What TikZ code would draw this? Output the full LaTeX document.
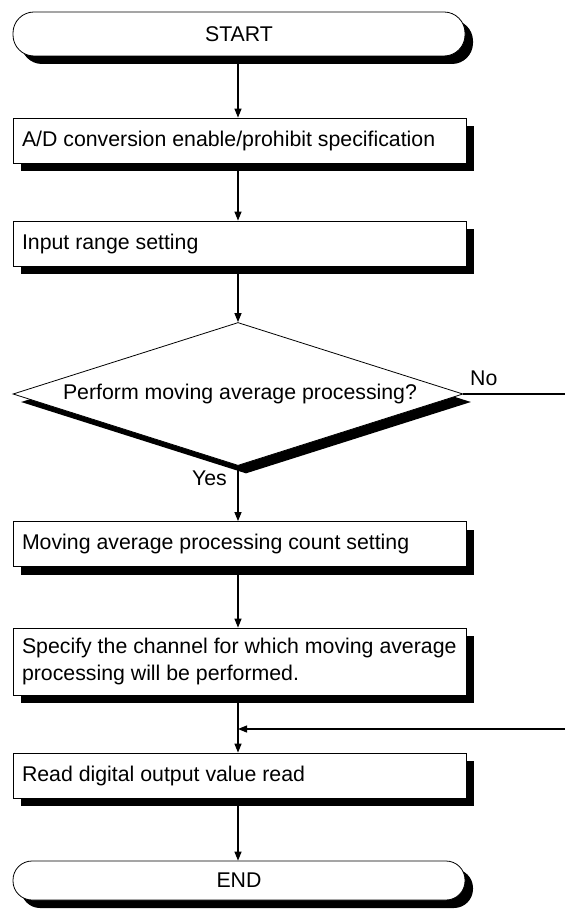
\documentclass[tikz,border=0pt]{standalone}
\usepackage{fontspec}
\setmainfont{Liberation Sans}
\usetikzlibrary{shapes.geometric,shadows,arrows.meta}
\begin{document}
\begin{tikzpicture}[x=1pt,y=-1pt,
 every node/.style={font=\fontsize{21.3}{27}\selectfont},
 shadowed/.style={drop shadow={shadow xshift=8pt,shadow yshift=-8pt,fill=black,opacity=1}},
 procbox/.style={shadowed,draw,line width=0.8pt,fill=white,rectangle,minimum width=453pt,inner xsep=9pt,inner ysep=0pt,text width=435pt,align=flush left},
 term/.style={shadowed,draw,line width=0.8pt,fill=white,rectangle,minimum width=452pt,inner sep=0pt},
 decision/.style={shadowed,draw,line width=0.8pt,fill=white,diamond,minimum width=450pt,minimum height=143pt,inner sep=0pt},
 lbl/.style={inner sep=0pt},
 arr/.style={line width=1.2pt,-{Triangle[length=9pt,width=7pt]}},
 plain/.style={line width=1.2pt}]
\useasboundingbox (0,0) rectangle (565,909);
\coordinate (col) at (238,0);
\coordinate (noend) at (565,394);
\coordinate (ret) at (565,729);

\node[term,rounded corners=21pt,minimum height=44pt] (start) at (239,34) {START};
\node[procbox,minimum height=45pt] (ad) at (239.5,140.5) {A/D conversion enable/prohibit specification};
\node[procbox,minimum height=45pt] (rng) at (239.5,243.5) {Input range setting};
\node[decision,label={[xshift=2pt]center:Perform moving average processing?}] (dec) at (238,394) {};
\node[procbox,minimum height=45pt] (cnt) at (239.5,544) {Moving average processing count setting};
\node[procbox,minimum height=67pt] (spec) at (239.5,661.5) {\makebox[435pt][l]{Specify the channel for which moving average}\\processing will be performed.};
\node[procbox,minimum height=45pt] (read) at (239.5,775.5) {Read digital output value read};
\node[term,rounded corners=19pt,minimum height=39pt] (stop) at (239,880.5) {END};

\node[lbl,anchor=east] (yes) at (227,478) {Yes};
\node[lbl,anchor=west] (no) at (470,378) {No};

\draw[arr] (start.south -| col) -- (ad.north -| col);
\draw[arr] (ad.south -| col) -- (rng.north -| col);
\draw[arr] (rng.south -| col) -- (dec.north);
\draw[plain] (dec.east) -- (noend);
\draw[arr] (dec.south) -- (cnt.north -| col);
\draw[arr] (cnt.south -| col) -- (spec.north -| col);
\draw[arr] (spec.south -| col) -- (read.north -| col);
\draw[arr] (ret) -- (ret -| col);
\draw[arr] (read.south -| col) -- (stop.north -| col);
\end{tikzpicture}
\end{document}
